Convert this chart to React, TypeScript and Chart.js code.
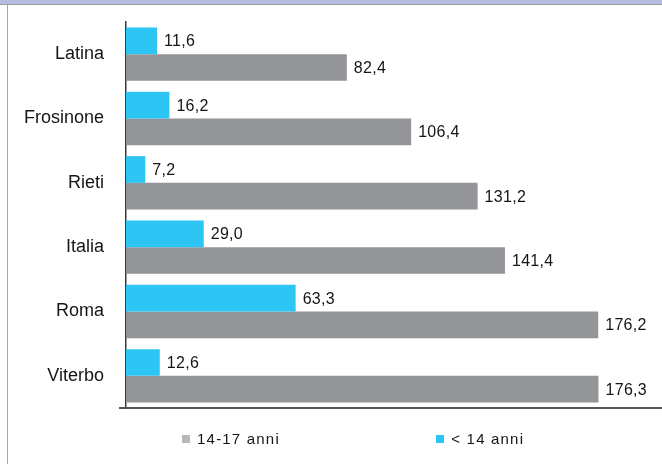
import React, { useEffect, useRef } from "react";
import { Chart, registerables } from "chart.js";

Chart.register(...registerables);

const categories = ["Latina", "Frosinone", "Rieti", "Italia", "Roma", "Viterbo"];
const under14 = [11.6, 16.2, 7.2, 29.0, 63.3, 12.6];
const age14to17 = [82.4, 106.4, 131.2, 141.4, 176.2, 176.3];
const seriesNames = ["< 14 anni", "14-17 anni"];

const BLUE = "#2cc5f4";
const GRAY = "#939598";
const LEGEND_GRAY = "#b7b7ba";
const SANS = "'Liberation Sans', Arial, sans-serif";

const labelsPlugin = {
  id: "valueLabels",
  afterDatasetsDraw(chart: any) {
    const ctx = chart.ctx;
    ctx.save();
    ctx.font = `16px ${SANS}`;
    ctx.fillStyle = "#151515";
    ctx.textAlign = "left";
    ctx.textBaseline = "middle";
    (ctx as any).letterSpacing = "0.3px";
    chart.data.datasets.forEach((ds: any, di: number) => {
      const meta = chart.getDatasetMeta(di);
      meta.data.forEach((bar: any, i: number) => {
        const v = ds.data[i] as number;
        ctx.fillText(v.toFixed(1).replace(".", ","), bar.x + 7, bar.y + 1);
      });
    });
    ctx.restore();
  },
};

const legendPlugin = {
  id: "customLegend",
  afterDraw(chart: any) {
    const ctx = chart.ctx;
    const area = chart.chartArea;
    ctx.save();
    // small extension of x axis to the left
    ctx.strokeStyle = "#555";
    ctx.lineWidth = 2;
    ctx.beginPath();
    ctx.moveTo(area.left - 7, area.bottom);
    ctx.lineTo(area.left, area.bottom);
    ctx.stroke();

    const items = [
      { text: seriesNames[1], color: LEGEND_GRAY, x: chart.width * 0.275 },
      { text: seriesNames[0], color: BLUE, x: chart.width * 0.659 },
    ];
    const y = area.bottom + 32;
    ctx.font = `15px ${SANS}`;
    (ctx as any).letterSpacing = "1.2px";
    ctx.textBaseline = "middle";
    ctx.textAlign = "left";
    items.forEach((it) => {
      ctx.fillStyle = it.color;
      ctx.fillRect(Math.round(it.x), y - 5, 8, 8);
      ctx.fillStyle = "#151515";
      ctx.fillText(it.text, it.x + 15, y);
    });
    ctx.restore();
  },
};

export default function App() {
  const ref = useRef<HTMLCanvasElement | null>(null);

  useEffect(() => {
    document.body.style.margin = "0";
    if (!ref.current) return;
    const chart = new Chart(ref.current, {
      type: "bar",
      data: {
        labels: categories,
        datasets: [
          {
            label: seriesNames[0],
            data: under14,
            backgroundColor: BLUE,
            borderWidth: 0,
            categoryPercentage: 0.83,
            barPercentage: 1,
          },
          {
            label: seriesNames[1],
            data: age14to17,
            backgroundColor: GRAY,
            borderWidth: 0,
            categoryPercentage: 0.83,
            barPercentage: 1,
          },
        ],
      },
      options: {
        indexAxis: "y",
        animation: false,
        responsive: false,
        maintainAspectRatio: false,
        layout: { padding: { top: 22, bottom: 56, left: 0, right: 0 } },
        plugins: {
          legend: { display: false },
          tooltip: { enabled: false },
        },
        scales: {
          x: {
            min: 0,
            max: 200,
            ticks: { display: false },
            grid: { display: false, drawTicks: false },
            border: { display: true, color: "#555", width: 2 },
            afterFit: (s: any) => {
              s.height = 0;
              s.paddingLeft = 0;
              s.paddingRight = 0;
              s.paddingTop = 0;
              s.paddingBottom = 0;
            },
          },
          y: {
            grid: { display: false, drawTicks: false },
            border: { display: true, color: "#3a3a3a", width: 1.5 },
            ticks: {
              color: "#151515",
              padding: 22,
              font: { family: SANS, size: 18 },
            },
            afterFit: (s: any) => {
              s.width = 126;
              s.paddingTop = 0;
              s.paddingBottom = 0;
              s.paddingLeft = 0;
              s.paddingRight = 0;
            },
          },
        },
      },
      plugins: [labelsPlugin, legendPlugin],
    } as any);
    return () => chart.destroy();
  }, []);

  return (
    <div style={{ position: "relative", width: 662, height: 464, background: "#fff", overflow: "hidden" }}>
      <div style={{ position: "absolute", left: 0, top: 0, width: 662, height: 4, background: "#b4bde0" }} />
      <div style={{ position: "absolute", left: 0, top: 4, width: 662, height: 1, background: "#9c9c9c" }} />
      <div style={{ position: "absolute", left: 7, top: 5, width: 1, height: 459, background: "#a8a8a8" }} />
      <canvas ref={ref} width={662} height={464} style={{ position: "absolute", left: 0, top: 0, display: "block" }} />
    </div>
  );
}
